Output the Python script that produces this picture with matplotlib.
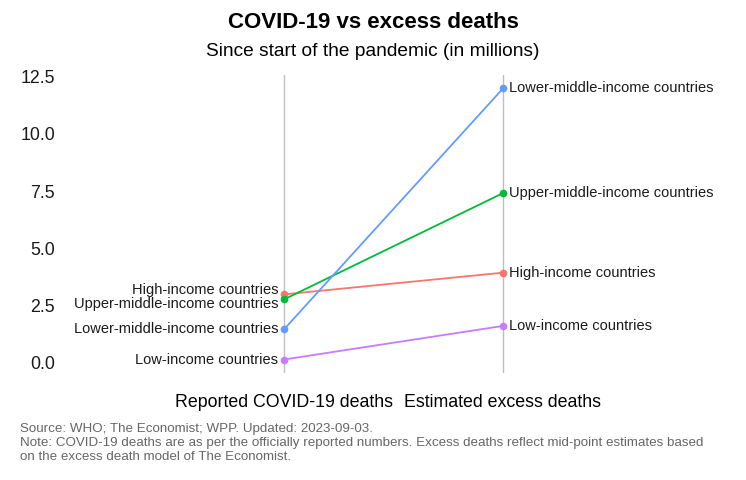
import matplotlib.pyplot as plt

plt.rcParams["font.family"] = ["Liberation Sans", "DejaVu Sans"]

# values in millions
groups = ["High-income countries", "Upper-middle-income countries",
          "Lower-middle-income countries", "Low-income countries"]
reported = [2.98, 2.76, 1.45, 0.13]
excess = [3.93, 7.41, 11.99, 1.60]
colors = ["#F8766D", "#00BA38", "#619CFF", "#C77CFF"]
categories = ["Reported COVID-19 deaths", "Estimated excess deaths"]
yticks = [0.0, 2.5, 5.0, 7.5, 10.0, 12.5]
# small vertical nudges (points) for the crowded left labels
left_nudge = [3, -3, 0, 0]

fig = plt.figure(figsize=(7.46, 4.8), dpi=100)
ax = fig.add_axes([62 / 746, 1 - 373 / 480, (725 - 62) / 746, 298 / 480])

for xc in range(len(categories)):
    ax.axvline(xc, color="#BEBEBE", linewidth=1.0, zorder=0)

for g, r, e, c, dy in zip(groups, reported, excess, colors, left_nudge):
    ax.plot([0, 1], [r, e], color=c, linewidth=1.3, marker="o",
            markersize=4.5, zorder=3)
    ax.annotate(g, (0, r), xytext=(-4, dy), textcoords="offset points",
                ha="right", va="center", fontsize=10.5, color="#1a1a1a")
    ax.annotate(g, (1, e), xytext=(4, 0), textcoords="offset points",
                ha="left", va="center", fontsize=10.5, color="#1a1a1a")

ax.set_xlim(-1.014, 2.014)
ax.set_ylim(-0.46, 12.58)
ax.set_yticks(yticks)
ax.set_yticklabels([f"{v:.1f}" for v in yticks], fontsize=12.8, color="#1a1a1a")
ax.set_xticks(range(len(categories)))
ax.set_xticklabels(categories, fontsize=12.8, color="black")
ax.tick_params(axis="both", length=0)
ax.tick_params(axis="x", pad=15)
ax.tick_params(axis="y", pad=5)
for s in ax.spines.values():
    s.set_visible(False)

fig.text(0.5, 1 - 23 / 480, "COVID-19 vs excess deaths", ha="center",
         va="center", fontsize=16, fontweight="bold")
fig.text(0.5, 1 - 51 / 480, "Since start of the pandemic (in millions)",
         ha="center", va="center", fontsize=13.8)
fig.text(20 / 746, 1 - 423 / 480,
         "Source: WHO; The Economist; WPP. Updated: 2023-09-03.\n"
         "Note: COVID-19 deaths are as per the officially reported numbers. "
         "Excess deaths reflect mid-point estimates based\n"
         "on the excess death model of The Economist.",
         ha="left", va="top", fontsize=9.6, color="#666666", linespacing=1.22)

fig.savefig("out.png", dpi=100)
